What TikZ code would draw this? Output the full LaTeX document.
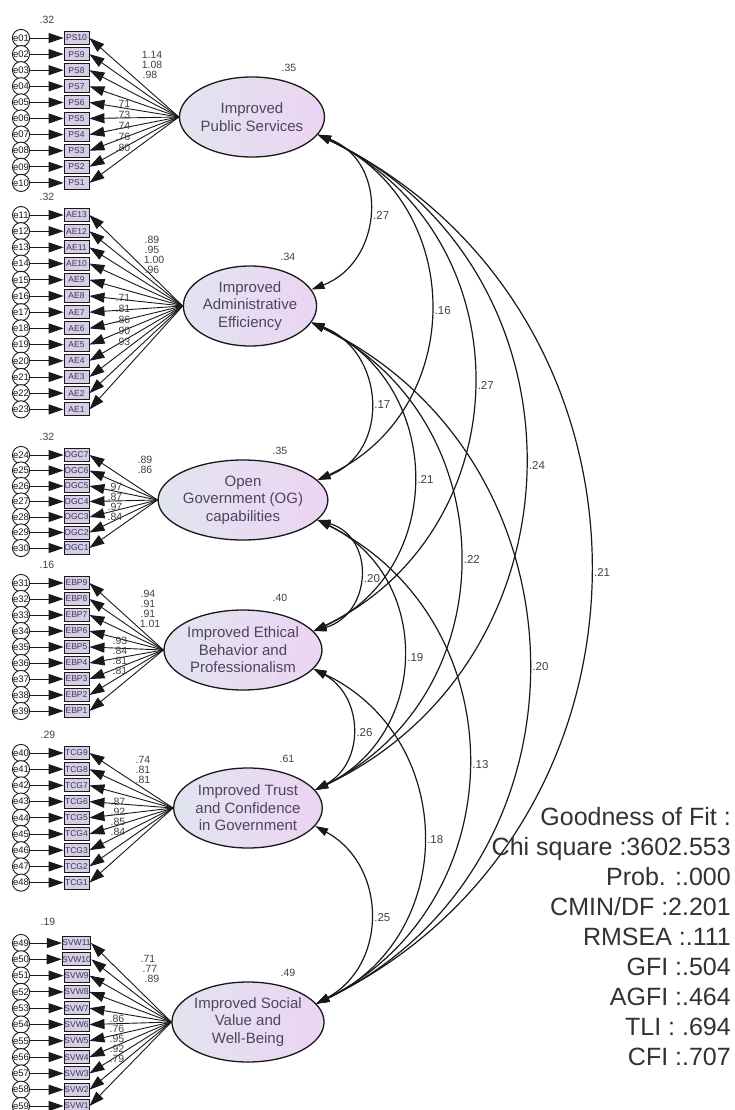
\documentclass[tikz,border=0pt]{standalone}
\usepackage{fontspec}
\setmainfont{Liberation Sans}
\usetikzlibrary{arrows.meta,shapes.geometric}
\definecolor{latL}{RGB}{226,228,240}
\definecolor{latR}{RGB}{236,212,242}
\definecolor{latText}{RGB}{78,68,98}
\definecolor{obsFill}{RGB}{214,206,232}
\definecolor{obsText}{RGB}{60,52,82}
\definecolor{ink}{RGB}{25,25,25}
\definecolor{numText}{RGB}{65,65,65}
\definecolor{fitText}{RGB}{50,50,50}
\tikzset{
  amostip/.tip={Triangle[length=13pt,width=8pt]},
  bigtip/.tip={Triangle[length=15pt,width=10pt]},
  lat/.style={ellipse, draw=ink, line width=1.3pt, minimum width=130pt, minimum height=80pt,
    inner sep=0pt, left color=latL, right color=latR, text=latText, align=center,
    font=\fontsize{15}{17.5}\selectfont},
  obs/.style={rectangle, draw=ink, line width=0.9pt, minimum width=25pt, minimum height=13pt,
    inner sep=0pt, fill=obsFill, text=obsText, font=\fontsize{8.5}{9}\selectfont},
  err/.style={circle, draw=ink, line width=0.9pt, minimum size=17pt, inner sep=0pt,
    fill=white, text=ink, font=\fontsize{9.5}{10}\selectfont},
  reg/.style={-bigtip, draw=ink, line width=0.9pt},
  cov/.style={amostip-amostip, draw=ink, line width=1.2pt},
  num/.style={inner sep=0pt, text=numText, font=\fontsize{10.5}{11}\selectfont},
  clbl/.style={num, font=\fontsize{11.5}{12}\selectfont, anchor=west, xshift=4pt, yshift=-3pt},
  fitline/.style={inner sep=0pt, anchor=base east, text=fitText, font=\fontsize{25}{30}\selectfont}
}
\begin{document}
\begin{tikzpicture}[x=1pt,y=1pt]
\fill[white] (0,0) rectangle (734,-1110);
\useasboundingbox (0,0) rectangle (734,-1110);

% latent factors
\node[lat] (L1) at (252,-117) {Improved\\Public Services};
\node[lat] (L2) at (250,-306) {Improved\\Administrative\\Efficiency};
\node[lat] (L3) at (243,-500) {Open\\Government (OG)\\capabilities};
\node[lat] (L4) at (243,-650) {Improved Ethical\\Behavior and\\Professionalism};
\node[lat] (L5) at (248,-808) {Improved Trust\\and Confidence\\in Government};
\node[lat] (L6) at (248,-1022) {Improved Social\\Value and\\Well-Being};

% squared multiple correlations
\node[num] (r1) at (289,-68) {.35};
\node[num] (r2) at (288,-257) {.34};
\node[num] (r3) at (280,-451) {.35};
\node[num] (r4) at (280,-598) {.40};
\node[num] (r5) at (287,-759) {.61};
\node[num] (r6) at (288,-973) {.49};

% indicators with their error terms
\foreach \g/\n/\yo/\sp/\pre/\lat/\eo in {1/10/38/16.1/PS/L1/0, 2/13/215/16.2/AE/L2/10,
    3/7/455/15.5/OGC/L3/23, 4/9/583/16/EBP/L4/30, 5/9/753/16.2/TCG/L5/39, 6/11/943/16.3/SVW/L6/48}{
  \foreach \k in {1,...,\n}{
    \pgfmathsetmacro\yy{-(\yo+(\k-1)*\sp)}
    \pgfmathtruncatemacro\num{\n+1-\k}
    \pgfmathtruncatemacro\en{\eo+\k}
    \node[obs] (o\g-\k) at (76.5,\yy) {\pre\num};
    \node[err] (e\g-\k) at (21,\yy) {e\ifnum\en<10 0\fi\en};
    \draw[reg] (e\g-\k) -- (o\g-\k);
    \draw[reg] (\lat.west) -- (o\g-\k.east);
  }
}

% error variances
\foreach \lx/\ly/\lt [count=\i] in {47/20/.32, 47/197/.32, 47/437/.32, 47/565/.16, 48/735/.29, 48/922/.19}
  \node[num] (v\i) at (\lx,-\ly) {\lt};

% factor loadings
\foreach \lx/\ly/\lt [count=\i] in {
  152/55/1.14, 152/65/1.08, 150/75/.98,
  123/104/.71, 123/115/.73, 123/126/.74, 123/137/.76, 123/148/.80,
  152/240/.89, 152/250/.95, 154/260/1.00, 152/270/.96,
  123/298/.71, 123/309/.81, 123/320/.86, 123/331/.90, 123/342/.93,
  145/460/.89, 145/470/.86,
  115/487/.97, 115/497/.87, 115/507/.97, 115/517/.84,
  148/594/.94, 148/604/.91, 148/614/.91, 150/624/1.01,
  120/641/.93, 120/651/.84, 120/661/.81, 120/671/.81,
  143/760/.74, 143/770/.81, 143/780/.81,
  118/802/.87, 118/812/.92, 118/822/.85, 118/832/.84,
  148/959/.71, 150/969/.77, 152/979/.89,
  117/1019/.86, 117/1029/.76, 117/1039/.95, 117/1049/.92, 117/1059/.79}
  \node[num] (ld\i) at (\lx,-\ly) {\lt};

% covariances between the factors
\draw[cov] (L1.-15) to[out=-21,in=21,distance=77pt] node[clbl] (c12) {.27} (L2.15);
\draw[cov] (L1.-15) to[out=-24.7,in=24.7,distance=165pt] node[clbl] (c13) {.16} (L3.15);
\draw[cov] (L1.-15) to[out=-25.7,in=25.7,distance=233pt] node[clbl] (c14) {.27} (L4.15);
\draw[cov] (L1.-15) to[out=-25.5,in=25.5,distance=307pt] node[clbl] (c15) {.24} (L5.15);
\draw[cov] (L1.-15) to[out=-26,in=26,distance=404pt] node[clbl] (c16) {.21} (L6.15);
\draw[cov] (L2.-15) to[out=-21.2,in=21.2,distance=79pt] node[clbl] (c23) {.17} (L3.15);
\draw[cov] (L2.-15) to[out=-24.4,in=24.4,distance=147pt] node[clbl] (c24) {.21} (L4.15);
\draw[cov] (L2.-15) to[out=-26.3,in=26.3,distance=217pt] node[clbl] (c25) {.22} (L5.15);
\draw[cov] (L2.-15) to[out=-25.9,in=25.9,distance=317pt] node[clbl] (c26) {.20} (L6.15);
\draw[cov] (L3.-15) to[out=-16.6,in=16.6,distance=61pt] node[clbl] (c34) {.20} (L4.15);
\draw[cov] (L3.-15) to[out=-25.8,in=25.8,distance=128pt] node[clbl] (c35) {.19} (L5.15);
\draw[cov] (L3.-15) to[out=-26.6,in=26.6,distance=225pt] node[clbl] (c36) {.13} (L6.15);
\draw[cov] (L4.-15) to[out=-28.5,in=28.5,distance=57pt] node[clbl] (c45) {.26} (L5.15);
\draw[cov] (L4.-15) to[out=-25.4,in=25.4,distance=159pt] node[clbl] (c46) {.18} (L6.15);
\draw[cov] (L5.-15) to[out=-28.7,in=28.7,distance=82pt] node[clbl] (c56) {.25} (L6.15);

% fit indices
\foreach \t [count=\i] in {Goodness of Fit :, Chi square :3602.553, Prob. :.000, CMIN/DF :2.201,
    RMSEA :.111, GFI :.504, AGFI :.464, TLI : .694, CFI :.707}
  \node[fitline] (f\i) at (731,{-(825+30*(\i-1))}) {\t};
\end{tikzpicture}
\end{document}
